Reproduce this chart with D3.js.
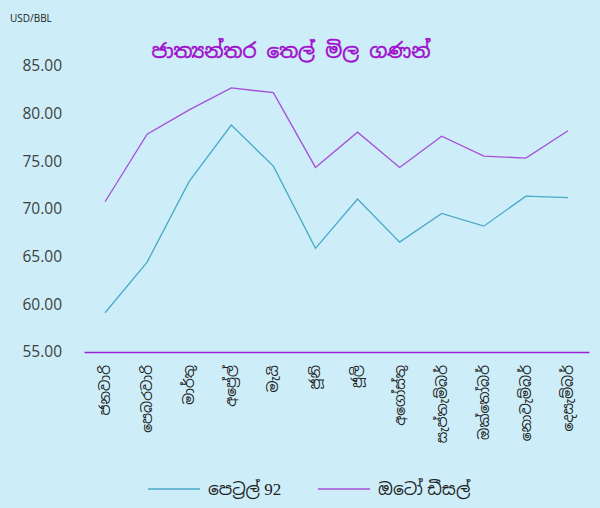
<!DOCTYPE html>
<html>
<head>
<meta charset="utf-8">
<script src="https://d3js.org/d3.v7.min.js"></script>
<style>
  html, body { margin: 0; padding: 0; background: #cdeef9; }
  svg { display: block; }
</style>
</head>
<body>
<div id="chart"></div>
<script>
// data
var months = ["ජනවාරි", "පෙබරවාරි", "මාර්තු", "අප්‍රේල්", "මැයි", "ජූනි",
  "ජූලි", "අගෝස්තු", "සැප්තැම්බර්", "ඔක්තෝබර්", "නොවැම්බර්", "දෙසැම්බර්"];
var petrol92 = [59.12, 64.43, 72.90, 78.80, 74.50, 65.87, 71.04, 66.53, 69.54, 68.20, 71.35, 71.20];
var autoDiesel = [70.76, 77.85, 80.40, 82.70, 82.20, 74.36, 78.06, 74.36, 77.64, 75.55, 75.34, 78.20];
var yTicks = [55, 60, 65, 70, 75, 80, 85];
var seriesNames = ["පෙට්‍රල් 92", "ඔටෝ ඩීසල්"];
var seriesColors = ["#4aa8c8", "#a64fd8"];

var width = 600, height = 508;
var sinhala = "'Noto Sans Sinhala', 'Noto Serif Sinhala', 'Iskoola Pota', serif";

var svg = d3.select("#chart").append("svg")
    .attr("width", width)
    .attr("height", height)
    .style("background", "#cdeef9");

var x = d3.scaleBand()
    .domain(months)
    .range([84, 589]);

var y = d3.scaleLinear()
    .domain([55, 85])
    .range([352, 66]);

// y tick labels
svg.append("g")
    .attr("transform", "translate(62,0)")
    .call(d3.axisLeft(y).tickValues(yTicks).tickFormat(d3.format(".2f")).tickSize(0).tickPadding(0))
    .call(function(g) { g.select(".domain").remove(); })
    .selectAll("text")
    .style("font-family", "'Open Sans', sans-serif")
    .style("font-size", "15.5px")
    .style("fill", "#404040");

// x axis
var xAxis = svg.append("g")
    .attr("transform", "translate(0,352)")
    .call(d3.axisBottom(x).tickSize(0).tickPadding(0));

xAxis.select(".domain")
    .attr("stroke", "#a020d8")
    .attr("stroke-width", 1.5);

xAxis.selectAll("text")
    .attr("transform", "translate(0,13) rotate(-90)")
    .attr("dy", "0.35em")
    .attr("x", 0)
    .attr("y", 0)
    .style("text-anchor", "end")
    .style("font-family", sinhala)
    .style("font-size", "14px")
    .style("fill", "#222");

// lines
var line = d3.line()
    .x(function(d, i) { return x(months[i]) + x.bandwidth() / 2; })
    .y(function(d) { return y(d); });

[petrol92, autoDiesel].forEach(function(s, k) {
  svg.append("path")
      .datum(s)
      .attr("d", line)
      .attr("fill", "none")
      .attr("stroke", seriesColors[k])
      .attr("stroke-width", 1.3);
});

// title
svg.append("text")
    .attr("x", 291)
    .attr("y", 58)
    .attr("text-anchor", "middle")
    .style("font-family", sinhala)
    .style("font-size", "20px")
    .style("fill", "#a010cc")
    .style("stroke", "#a010cc")
    .style("stroke-width", 0.5)
    .text("ජාත්‍යන්තර තෙල් මිල ගණන්");

// unit label
svg.append("text")
    .attr("x", 10)
    .attr("y", 22)
    .style("font-family", "'Open Sans', sans-serif")
    .style("font-size", "10px")
    .style("fill", "#222")
    .text("USD/BBL");

// legend
var legendX = [148, 318];
seriesNames.forEach(function(name, k) {
  var g = svg.append("g").attr("transform", "translate(" + legendX[k] + ",489)");
  g.append("line")
      .attr("x1", 0).attr("x2", 52)
      .attr("y1", 0).attr("y2", 0)
      .attr("stroke", seriesColors[k])
      .attr("stroke-width", 1.3);
  g.append("text")
      .attr("x", 60)
      .attr("y", 0)
      .attr("dy", "0.35em")
      .style("font-family", "'Liberation Serif', " + sinhala)
      .style("font-size", "17px")
      .style("fill", "#222")
      .text(name);
});
</script>
</body>
</html>
